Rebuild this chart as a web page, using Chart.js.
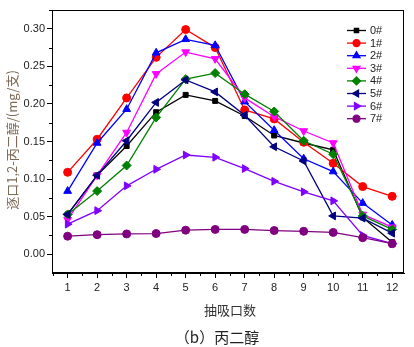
<!DOCTYPE html>
<html>
<head>
<meta charset="utf-8">
<script src="https://cdn.jsdelivr.net/npm/chart.js@4"></script>
<style>
  html, body { margin: 0; padding: 0; background: #fff; }
  #wrap { width: 414px; height: 347px; }
</style>
</head>
<body>
<div id="wrap"><canvas id="chart" width="414" height="347"></canvas></div>
<script>
// 抽吸口数
const puffs = [1, 2, 3, 4, 5, 6, 7, 8, 9, 10, 11, 12];
const xTicks = [1, 2, 3, 4, 5, 6, 7, 8, 9, 10, 11, 12];
const yTicks = [0, 0.05, 0.10, 0.15, 0.20, 0.25, 0.30];

const names = ["0#", "1#", "2#", "3#", "4#", "5#", "6#", "7#"];
const s0 = [0.053, 0.105, 0.144, 0.189, 0.212, 0.204, 0.184, 0.158, 0.148, 0.139, 0.049, 0.016];
const s1 = [0.109, 0.153, 0.208, 0.262, 0.299, 0.275, 0.192, 0.180, 0.149, 0.121, 0.090, 0.077];
const s2 = [0.084, 0.148, 0.193, 0.268, 0.286, 0.278, 0.203, 0.165, 0.127, 0.110, 0.068, 0.039];
const s3 = [0.046, 0.105, 0.162, 0.240, 0.269, 0.260, 0.208, 0.183, 0.164, 0.148, 0.053, 0.036];
const s4 = [0.053, 0.084, 0.118, 0.182, 0.233, 0.241, 0.213, 0.190, 0.151, 0.133, 0.051, 0.033];
const s5 = [0.053, 0.105, 0.151, 0.202, 0.232, 0.216, 0.185, 0.143, 0.124, 0.051, 0.048, 0.028];
const s6 = [0.040, 0.058, 0.091, 0.113, 0.132, 0.129, 0.114, 0.097, 0.083, 0.071, 0.025, 0.014];
const s7 = [0.024, 0.026, 0.027, 0.0275, 0.032, 0.033, 0.033, 0.0315, 0.0305, 0.029, 0.022, 0.014];
const series = [s0, s1, s2, s3, s4, s5, s6, s7];

const colors = ["#000000", "#ff0000", "#0000ff", "#ff00ff", "#008000", "#000080", "#8000ff", "#800080"];
const shapes = ["rect", "circle", "triangle", "triangle", "rectRot", "triangle", "triangle", "circle"];
const rots = [0, 0, 0, 180, 0, -90, 90, 0];
const radii = [3.5, 4, 4.5, 4.5, 4.5, 4.5, 4.5, 4];

const datasets = series.map((vals, i) => ({
    label: names[i],
    data: vals.map((v, j) => ({ x: puffs[j], y: v })),
    borderColor: colors[i],
    backgroundColor: colors[i],
    borderWidth: 1.3,
    pointStyle: shapes[i],
    rotation: rots[i],
    pointRadius: radii[i],
    pointBorderWidth: 1,
    order: 7 - i
}));

// 外框、次刻度、标题和图例
const extras = {
    id: "extras",
    afterDraw(chart) {
        const ctx = chart.ctx;
        const a = chart.chartArea;
        const xs = chart.scales.x, ys = chart.scales.y;
        ctx.save();
        ctx.strokeStyle = "#000";
        ctx.lineWidth = 1;
        ctx.strokeRect(a.left + 0.5, a.top + 0.5, a.right - a.left - 1, a.bottom - a.top - 1);

        // 次刻度
        ctx.beginPath();
        for (let v = 0.5; v <= 12.5; v += 1) {
            const px = Math.round(xs.getPixelForValue(v)) + 0.5;
            if (px < a.left || px > a.right) continue;
            ctx.moveTo(px, a.bottom); ctx.lineTo(px, a.bottom + 3);
        }
        for (let v = -0.025; v <= 0.33; v += 0.05) {
            const py = Math.round(ys.getPixelForValue(v)) + 0.5;
            if (py < a.top || py > a.bottom) continue;
            ctx.moveTo(a.left, py); ctx.lineTo(a.left - 3, py);
        }
        ctx.stroke();

        // 轴标题
        ctx.fillStyle = "#333";
        ctx.font = "13px 'Noto Sans CJK SC'";
        ctx.textAlign = "center";
        ctx.textBaseline = "middle";
        ctx.fillText("抽吸口数", 230, 310);

        ctx.fillStyle = "#222";
        ctx.font = "15px 'Noto Sans CJK SC'";
        ctx.fillText("（b）丙二醇", 217, 337);

        ctx.save();
        ctx.translate(12, 140);
        ctx.rotate(-Math.PI / 2);
        ctx.fillStyle = "#7d6a55";
        ctx.font = "13px 'Noto Sans CJK SC'";
        ctx.fillText("逐口1,2-丙二醇/(mg/支)", 0, 0);
        ctx.restore();

        // 图例
        ctx.font = "11px 'Liberation Sans', Arial, sans-serif";
        ctx.textAlign = "left";
        chart.data.datasets.forEach((ds, i) => {
            const y = 30.5 + i * 12.6;
            ctx.strokeStyle = ds.borderColor;
            ctx.lineWidth = 1.3;
            ctx.beginPath();
            ctx.moveTo(347, y); ctx.lineTo(366, y);
            ctx.stroke();
            ctx.fillStyle = ds.backgroundColor;
            Chart.helpers.drawPoint(ctx, {
                pointStyle: ds.pointStyle, rotation: ds.rotation,
                radius: ds.pointRadius - 0.5, borderWidth: 1
            }, 356.5, y);
            ctx.fillStyle = "#222";
            ctx.fillText(ds.label, 370, y + 0.5);
        });
        ctx.restore();
    }
};

new Chart(document.getElementById("chart"), {
    type: "line",
    data: { datasets: datasets },
    options: {
        responsive: false,
        animation: false,
        layout: { padding: { top: 10, right: 10, left: 0, bottom: 0 } },
        plugins: { legend: { display: false }, tooltip: { enabled: false } },
        scales: {
            x: {
                type: "linear",
                min: 0.47,
                max: 12.4,
                afterBuildTicks: s => { s.ticks = xTicks.map(v => ({ value: v })); },
                afterFit: s => { s.height = 74; },
                grid: { drawOnChartArea: false, tickLength: 5, color: "#000" },
                border: { color: "#000" },
                ticks: {
                    color: "#222",
                    padding: 3,
                    maxRotation: 0,
                    font: { family: "'Liberation Sans', Arial, sans-serif", size: 11 }
                }
            },
            y: {
                min: -0.025,
                max: 0.325,
                afterBuildTicks: s => { s.ticks = yTicks.map(v => ({ value: v })); },
                afterFit: s => { s.width = 52; },
                grid: { drawOnChartArea: false, tickLength: 5, color: "#000" },
                border: { color: "#000" },
                ticks: {
                    color: "#222",
                    padding: 2,
                    callback: v => v.toFixed(2),
                    font: { family: "'Liberation Sans', Arial, sans-serif", size: 11 }
                }
            }
        }
    },
    plugins: [extras]
});
</script>
</body>
</html>
